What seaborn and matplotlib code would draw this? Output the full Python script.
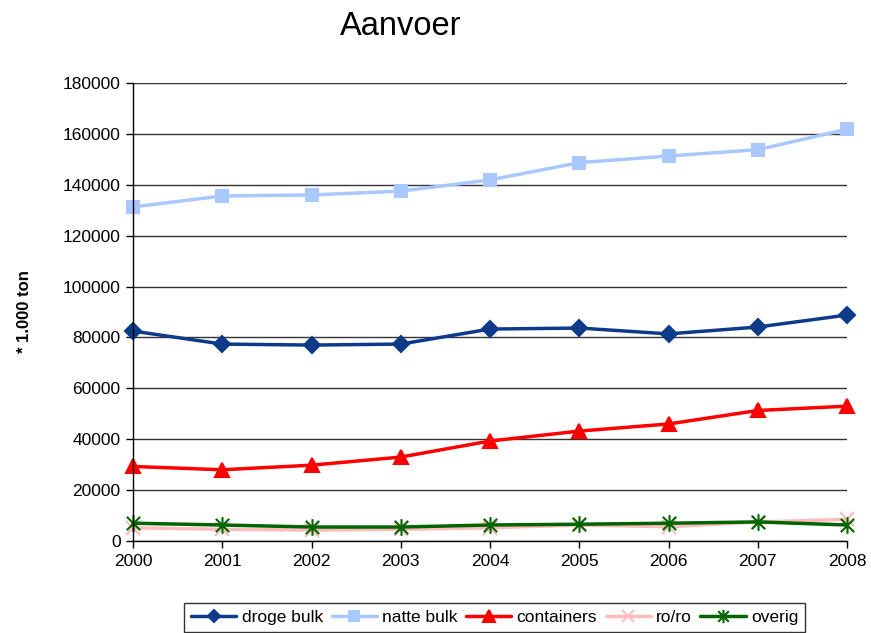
import matplotlib
matplotlib.use("Agg")
import matplotlib.pyplot as plt
from matplotlib.path import Path
import seaborn as sns

# Data (* 1.000 ton)
jaren = [2000, 2001, 2002, 2003, 2004, 2005, 2006, 2007, 2008]
droge_bulk = [82500, 77400, 77000, 77400, 83300, 83700, 81400, 84100, 88800]
natte_bulk = [131300, 135600, 136000, 137500, 141900, 148700, 151300, 153800, 161800]
containers = [29300, 28000, 29800, 33000, 39300, 43200, 46000, 51300, 53000]
ro_ro = [5200, 4600, 4300, 4600, 5200, 6300, 5600, 7500, 8500]
overig = [7000, 6300, 5500, 5500, 6300, 6600, 7000, 7500, 6300]

sns.set_style("white")
plt.rcParams['font.family'] = ['Liberation Sans', 'DejaVu Sans']
plt.rcParams['text.color'] = 'black'
plt.rcParams['axes.labelcolor'] = 'black'
plt.rcParams['xtick.color'] = 'black'
plt.rcParams['ytick.color'] = 'black'

# asterisk: vertical stroke plus an X
ster = Path([(0, -1), (0, 1), (-0.8, -0.8), (0.8, 0.8), (-0.8, 0.8), (0.8, -0.8)],
            [Path.MOVETO, Path.LINETO, Path.MOVETO, Path.LINETO, Path.MOVETO, Path.LINETO])

fig = plt.figure(figsize=(8.71, 6.33), dpi=100)
ax = fig.add_axes([0.1527, 0.1453, 0.8198, 0.7236])

series = [
    ("droge bulk", droge_bulk, "#0d3b8a", "D", 8),
    ("natte bulk", natte_bulk, "#a8c8ff", "s", 9),
    ("containers", containers, "#ff0000", "^", 10),
    ("ro/ro", ro_ro, "#ffbcbc", "x", 10),
    ("overig", overig, "#006400", ster, 12),
]

for naam, waarden, kleur, marker, ms in series:
    sns.lineplot(x=jaren, y=waarden, ax=ax, color=kleur, marker=marker,
                 markersize=ms, markeredgecolor=kleur, markeredgewidth=1.5,
                 linewidth=2.5, label=naam, clip_on=False)

ax.set_xlim(2000, 2008)
ax.set_ylim(0, 180000)
ax.set_xticks(jaren)
ax.set_yticks(range(0, 180001, 20000))
ax.tick_params(axis="both", labelsize=12.5, direction="out", length=5,
               color="black", width=1, left=True, bottom=True, pad=4)
ax.yaxis.grid(True, color="#333333", linewidth=1)
ax.xaxis.grid(False)
for s in ["top", "right"]:
    ax.spines[s].set_visible(False)
for s in ["left", "bottom"]:
    ax.spines[s].set_color("black")
    ax.spines[s].set_linewidth(1)
ax.set_axisbelow(True)

ax.set_xlabel("")
ax.set_ylabel("* 1.000 ton", fontsize=12, fontweight="bold", labelpad=22)
fig.text(0.46, 0.958, "Aanvoer", fontsize=23.5, ha="center", va="center")

handles, labels = ax.get_legend_handles_labels()
ax.get_legend().remove()
leg = fig.legend(handles, labels, loc="center", bbox_to_anchor=(0.568, 0.025),
                 ncol=5, fontsize=12.5, frameon=True, fancybox=False,
                 handlelength=2.6, handletextpad=0.3, columnspacing=0.5,
                 borderpad=0.4, markerscale=0.8)
leg.get_frame().set_edgecolor("black")
leg.get_frame().set_linewidth(1)

fig.savefig("out.png", dpi=100)
